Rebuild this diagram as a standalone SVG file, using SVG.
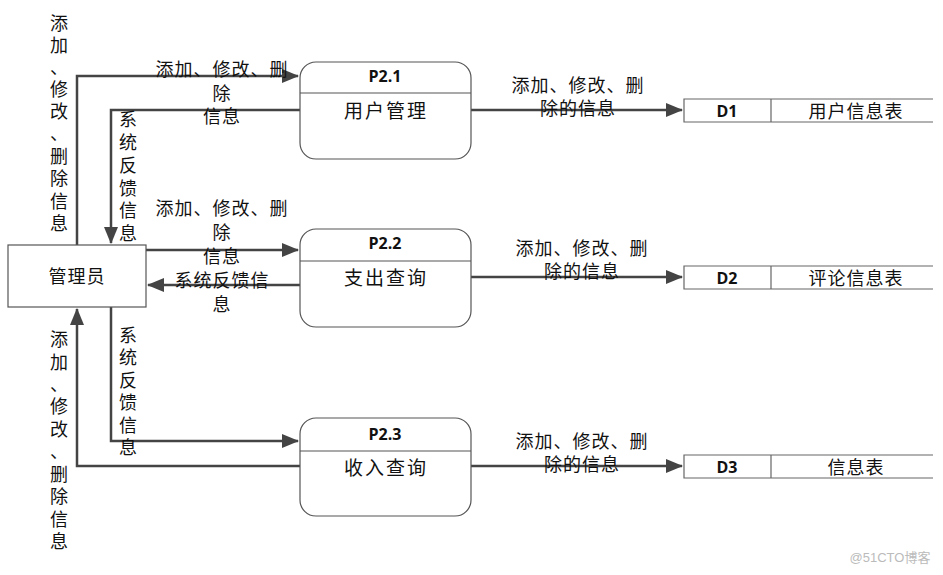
<svg xmlns="http://www.w3.org/2000/svg" width="943" height="575" viewBox="0 0 943 575">
<style>
.cn{font-family:"Noto Sans CJK SC","Liberation Sans",sans-serif;font-size:18px;fill:#111;text-anchor:middle;dominant-baseline:central}
.ls{letter-spacing:1px}
.nm{font-size:19px;letter-spacing:2px}
.pid{font-family:"Open Sans","Liberation Sans",sans-serif;font-size:16px;font-weight:bold;fill:#111;text-anchor:middle;dominant-baseline:central}
.proc{fill:#fff;stroke:#555;stroke-width:1.2}
.div{stroke:#555;stroke-width:1.2}
.sl{stroke:#666;stroke-width:1.2;fill:none}
.conn{fill:none;stroke:#444;stroke-width:2.5}
</style>
<defs>
<marker id="arr" markerUnits="userSpaceOnUse" markerWidth="18" markerHeight="14" refX="16" refY="7" orient="auto">
<path d="M0,0 L17,7 L0,14 z" fill="#444"/>
</marker>
</defs>
<rect width="943" height="575" fill="#fff"/>

<g id="connectors">
<path class="conn" d="M77,245 V76 H298" marker-end="url(#arr)"/>
<path class="conn" d="M300,110 H111 V243" marker-end="url(#arr)"/>
<path class="conn" d="M146,250 H298" marker-end="url(#arr)"/>
<path class="conn" d="M300,285 H148" marker-end="url(#arr)"/>
<path class="conn" d="M111,307 V441 H298" marker-end="url(#arr)"/>
<path class="conn" d="M300,466 H77 V309" marker-end="url(#arr)"/>
<path class="conn" d="M471,110 H682" marker-end="url(#arr)"/>
<path class="conn" d="M471,277 H682" marker-end="url(#arr)"/>
<path class="conn" d="M471,466 H682" marker-end="url(#arr)"/>
</g>

<g id="labels">
<text class="cn"><tspan x="59" y="22">添</tspan><tspan x="59" y="44">加</tspan><tspan x="59" y="66">、</tspan><tspan x="59" y="88">修</tspan><tspan x="59" y="110">改</tspan><tspan x="59" y="132">、</tspan><tspan x="59" y="155">删</tspan><tspan x="59" y="177">除</tspan><tspan x="59" y="200">信</tspan><tspan x="59" y="222">息</tspan></text>
<text class="cn"><tspan x="128" y="118">系</tspan><tspan x="128" y="141">统</tspan><tspan x="128" y="164">反</tspan><tspan x="128" y="187">馈</tspan><tspan x="128" y="209">信</tspan><tspan x="128" y="232">息</tspan></text>
<text class="cn ls"><tspan x="222" y="68">添加、修改、删</tspan><tspan x="222" y="92">除</tspan><tspan x="222" y="115">信息</tspan></text>
<text class="cn ls"><tspan x="222" y="207">添加、修改、删</tspan><tspan x="222" y="231">除</tspan><tspan x="222" y="255">信息</tspan></text>
<text class="cn ls"><tspan x="222" y="279">系统反馈信</tspan><tspan x="222" y="303">息</tspan></text>
<text class="cn"><tspan x="59" y="338">添</tspan><tspan x="59" y="361">加</tspan><tspan x="59" y="383">、</tspan><tspan x="59" y="405">修</tspan><tspan x="59" y="428">改</tspan><tspan x="59" y="450">、</tspan><tspan x="59" y="473">删</tspan><tspan x="59" y="495">除</tspan><tspan x="59" y="518">信</tspan><tspan x="59" y="540">息</tspan></text>
<text class="cn"><tspan x="128" y="334">系</tspan><tspan x="128" y="356">统</tspan><tspan x="128" y="379">反</tspan><tspan x="128" y="401">馈</tspan><tspan x="128" y="424">信</tspan><tspan x="128" y="446">息</tspan></text>
<text class="cn ls"><tspan x="578" y="84">添加、修改、删</tspan><tspan x="578" y="107">除的信息</tspan></text>
<text class="cn ls"><tspan x="582" y="247">添加、修改、删</tspan><tspan x="582" y="270">除的信息</tspan></text>
<text class="cn ls"><tspan x="582" y="440">添加、修改、删</tspan><tspan x="582" y="463">除的信息</tspan></text>
</g>

<g id="manager">
<rect x="8" y="245" width="138" height="62" fill="#fff" stroke="#555" stroke-width="1.2"/>
<text class="cn ls" x="77" y="275">管理员</text>
</g>

<g id="p21">
<rect class="proc" x="300" y="62" width="171" height="97" rx="16"/>
<line class="div" x1="300" y1="93" x2="471" y2="93"/>
<text class="pid" x="385" y="76">P2.1</text>
<text class="cn nm" x="386" y="109">用户管理</text>
</g>
<g id="p22">
<rect class="proc" x="300" y="229" width="171" height="98" rx="16"/>
<line class="div" x1="300" y1="261" x2="471" y2="261"/>
<text class="pid" x="385" y="243">P2.2</text>
<text class="cn nm" x="386" y="276">支出查询</text>
</g>
<g id="p23">
<rect class="proc" x="300" y="418" width="171" height="98" rx="16"/>
<line class="div" x1="300" y1="451" x2="471" y2="451"/>
<text class="pid" x="385" y="434">P2.3</text>
<text class="cn nm" x="386" y="466">收入查询</text>
</g>

<g id="d1">
<path class="sl" d="M933,99 H684 V122 H933 M771,99 V122"/>
<text class="pid" x="727" y="111">D1</text>
<text class="cn ls" x="856" y="110">用户信息表</text>
</g>
<g id="d2">
<path class="sl" d="M933,266 H684 V289 H933 M771,266 V289"/>
<text class="pid" x="727" y="278">D2</text>
<text class="cn ls" x="856" y="277">评论信息表</text>
</g>
<g id="d3">
<path class="sl" d="M933,455 H684 V478 H933 M771,455 V478"/>
<text class="pid" x="727" y="467">D3</text>
<text class="cn ls" x="856" y="466">信息表</text>
</g>

<text x="890" y="557" font-family="Liberation Sans,Noto Sans CJK SC,sans-serif" font-size="13" fill="#bbb" text-anchor="middle" dominant-baseline="central">@51CTO博客</text>
</svg>
